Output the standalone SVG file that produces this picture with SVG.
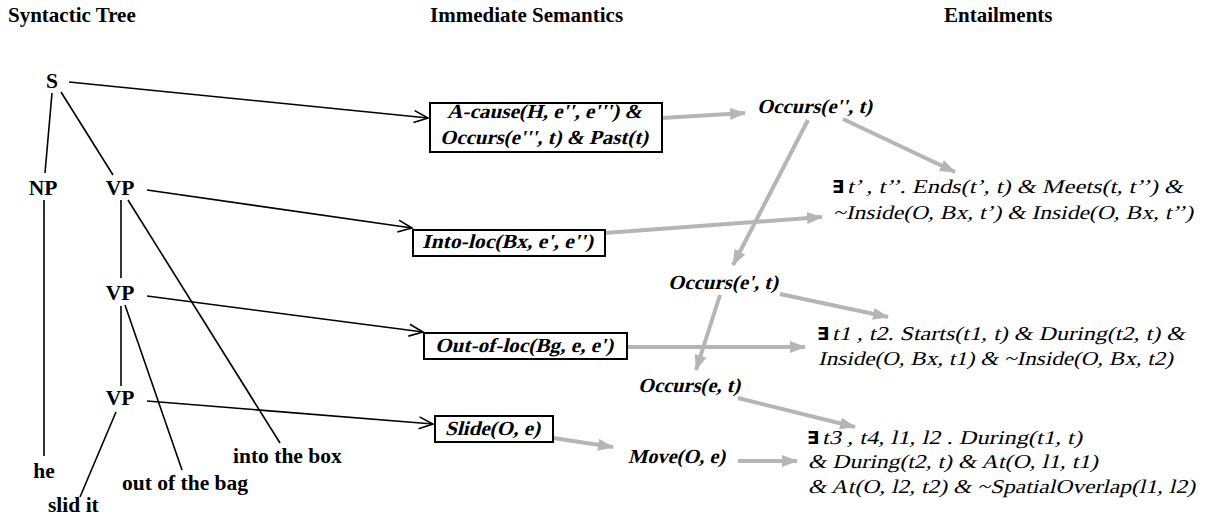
<svg xmlns="http://www.w3.org/2000/svg" width="1209" height="515" viewBox="0 0 1209 515">
<style>
.h{font-family:"Liberation Serif","Times New Roman",serif;font-weight:bold;font-size:21px;fill:#000}
.t{font-family:"Liberation Serif","Times New Roman",serif;font-weight:bold;font-size:21.5px;fill:#000}
.bi{font-family:"Liberation Serif","Times New Roman",serif;font-weight:bold;font-size:20px;fill:#000}
.i{font-family:"Liberation Serif","Times New Roman",serif;font-size:19.5px;fill:#000}
.ex{font-family:"DejaVu Sans",sans-serif;font-weight:bold;font-size:18px;fill:#000}
.tl{stroke:#000;stroke-width:1.6;fill:none}
.ba{stroke:#000;stroke-width:1.6;fill:none;marker-end:url(#open)}
.ga{stroke:#b5b5b5;stroke-width:4;fill:none;marker-end:url(#tri)}
.box{fill:#fff;stroke:#000;stroke-width:2}
</style>
<defs>
<marker id="open" markerUnits="userSpaceOnUse" markerWidth="18" markerHeight="14" refX="15" refY="7" orient="auto">
<path d="M1,1 L15,7 L1,13" fill="none" stroke="#000" stroke-width="1.6"/>
</marker>
<marker id="tri" markerUnits="userSpaceOnUse" markerWidth="16" markerHeight="12" refX="15" refY="6" orient="auto">
<path d="M0,0 L16,6 L0,12 Z" fill="#b5b5b5"/>
</marker>
</defs>
<g id="headings">
<text class="h" x="8" y="22">Syntactic Tree</text>
<text class="h" x="430" y="22">Immediate Semantics</text>
<text class="h" x="944" y="22">Entailments</text>
</g>
<g id="connectors">
<line class="tl" x1="52" y1="93" x2="45" y2="173"/>
<line class="tl" x1="61" y1="92" x2="113" y2="175"/>
<line class="tl" x1="44" y1="200" x2="44" y2="456"/>
<line class="tl" x1="121" y1="200" x2="121" y2="278"/>
<line class="tl" x1="128" y1="200" x2="280" y2="443"/>
<line class="tl" x1="121" y1="306" x2="121" y2="386"/>
<line class="tl" x1="125" y1="305" x2="182" y2="470"/>
<line class="tl" x1="116" y1="412" x2="80" y2="497"/>
<line class="ba" x1="69" y1="82" x2="428" y2="118"/>
<line class="ba" x1="147" y1="190" x2="412" y2="228"/>
<line class="ba" x1="147" y1="296" x2="423" y2="332"/>
<line class="ba" x1="147" y1="401" x2="433" y2="424"/>
<line class="ga" x1="662" y1="118" x2="745" y2="113"/>
<line class="ga" x1="605" y1="233" x2="822" y2="217"/>
<line class="ga" x1="808" y1="120" x2="733" y2="265"/>
<line class="ga" x1="843" y1="119" x2="955" y2="172"/>
<line class="ga" x1="780" y1="294" x2="888" y2="317"/>
<line class="ga" x1="720" y1="295" x2="696" y2="370"/>
<line class="ga" x1="627" y1="347" x2="805" y2="347"/>
<line class="ga" x1="738" y1="398" x2="855" y2="427"/>
<line class="ga" x1="553" y1="438" x2="613" y2="447"/>
<line class="ga" x1="738" y1="461" x2="797" y2="461"/>
</g>
<g id="S"><text class="t" x="52" y="88" text-anchor="middle">S</text></g>
<g id="NP"><text class="t" x="43" y="195" text-anchor="middle">NP</text></g>
<g id="VP1"><text class="t" x="120" y="195" text-anchor="middle">VP</text></g>
<g id="VP2"><text class="t" x="120" y="300" text-anchor="middle">VP</text></g>
<g id="VP3"><text class="t" x="120" y="405" text-anchor="middle">VP</text></g>
<g id="he"><text class="t" x="44" y="478" text-anchor="middle">he</text></g>
<g id="into-the-box"><text class="t" x="233" y="463">into the box</text></g>
<g id="out-of-the-bag"><text class="t" x="122" y="490">out of the bag</text></g>
<g id="slid-it"><text class="t" x="48" y="512">slid it</text></g>
<g id="box-acause">
<rect class="box" x="430" y="103" width="232" height="49"/>
<text class="bi" transform="translate(447,118) skewX(-14)" textLength="195" lengthAdjust="spacingAndGlyphs">A-cause(H, e'', e''') &amp;</text>
<text class="bi" transform="translate(440,144) skewX(-14)" textLength="208" lengthAdjust="spacingAndGlyphs">Occurs(e''', t) &amp; Past(t)</text>
</g>
<g id="box-intoloc">
<rect class="box" x="413" y="230" width="192" height="26"/>
<text class="bi" transform="translate(422,248) skewX(-14)" textLength="171" lengthAdjust="spacingAndGlyphs">Into-loc(Bx, e', e'')</text>
</g>
<g id="box-outofloc">
<rect class="box" x="424" y="333" width="203" height="26"/>
<text class="bi" transform="translate(435,352) skewX(-14)" textLength="178" lengthAdjust="spacingAndGlyphs">Out-of-loc(Bg, e, e')</text>
</g>
<g id="box-slide">
<rect class="box" x="435" y="416" width="118" height="26"/>
<text class="bi" transform="translate(445,435) skewX(-14)" textLength="95" lengthAdjust="spacingAndGlyphs">Slide(O, e)</text>
</g>
<g id="occurs-e2"><text class="bi" transform="translate(757,113) skewX(-14)" textLength="115" lengthAdjust="spacingAndGlyphs">Occurs(e'', t)</text></g>
<g id="occurs-e1"><text class="bi" transform="translate(668,289) skewX(-14)" textLength="110" lengthAdjust="spacingAndGlyphs">Occurs(e', t)</text></g>
<g id="occurs-e"><text class="bi" transform="translate(638,392) skewX(-14)" textLength="102" lengthAdjust="spacingAndGlyphs">Occurs(e, t)</text></g>
<g id="move"><text class="bi" transform="translate(628,463) skewX(-14)" textLength="97" lengthAdjust="spacingAndGlyphs">Move(O, e)</text></g>
<g id="ent1">
<text class="ex" x="832" y="193">∃</text>
<text class="i" transform="translate(847,193) skewX(-14)" textLength="336" lengthAdjust="spacingAndGlyphs">t’ , t’’. Ends(t’, t) &amp; Meets(t, t’’) &amp;</text>
<text class="i" transform="translate(833,219) skewX(-14)" textLength="360" lengthAdjust="spacingAndGlyphs">~Inside(O, Bx, t’) &amp; Inside(O, Bx, t’’)</text>
</g>
<g id="ent2">
<text class="ex" x="817" y="340">∃</text>
<text class="i" transform="translate(832,340) skewX(-14)" textLength="353" lengthAdjust="spacingAndGlyphs">t1 , t2. Starts(t1, t) &amp; During(t2, t) &amp;</text>
<text class="i" transform="translate(818,365) skewX(-14)" textLength="355" lengthAdjust="spacingAndGlyphs">Inside(O, Bx, t1) &amp; ~Inside(O, Bx, t2)</text>
</g>
<g id="ent3">
<text class="ex" x="807" y="444">∃</text>
<text class="i" transform="translate(822,444) skewX(-14)" textLength="260" lengthAdjust="spacingAndGlyphs">t3 , t4, l1, l2 . During(t1, t)</text>
<text class="i" transform="translate(808,468) skewX(-14)" textLength="290" lengthAdjust="spacingAndGlyphs">&amp; During(t2, t) &amp; At(O, l1, t1)</text>
<text class="i" transform="translate(808,493) skewX(-14)" textLength="387" lengthAdjust="spacingAndGlyphs">&amp; At(O, l2, t2) &amp; ~SpatialOverlap(l1, l2)</text>
</g>
</svg>
